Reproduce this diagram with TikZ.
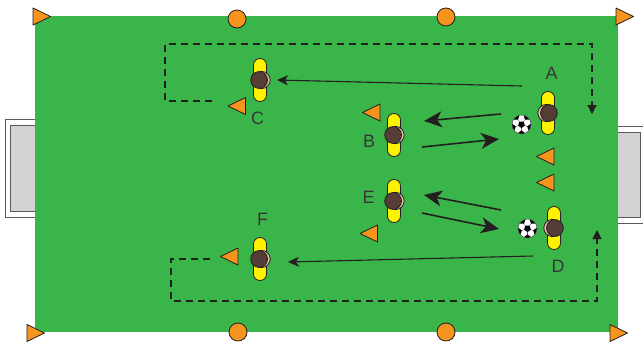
\documentclass[tikz,border=0pt]{standalone}
\usepackage{fontspec}
\setmainfont{Liberation Sans}
\usetikzlibrary{arrows.meta}
\definecolor{field}{RGB}{58,181,74}
\definecolor{cone}{RGB}{247,148,29}
\definecolor{shirt}{RGB}{255,242,0}
\definecolor{hair}{RGB}{84,62,55}
\definecolor{skin}{RGB}{233,190,168}
\definecolor{goalgray}{RGB}{209,211,212}
\definecolor{ink}{RGB}{35,31,32}
\definecolor{goalline}{RGB}{90,90,90}
\tikzset{
  leftcone/.pic={\filldraw[fill=cone,draw=ink,line width=0.8bp,line join=round] (-9,0)--(8.5,-8.5)--(8.5,8.5)--cycle;},
  player/.pic={
    \filldraw[fill=shirt,draw=ink,line width=0.8bp,rounded corners=6.4bp] (-6.5,-21.5) rectangle (6.5,21.5);
    \filldraw[fill=skin,draw=ink,line width=0.8bp] (1.6,0) circle (8.6);
    \filldraw[fill=hair,draw=ink,line width=0.8bp] (-0.9,0) circle (8.4);
  },
  ballpic/.pic={
    \fill[white] (0,0) circle (9.5);
    \begin{scope}
      \clip (0,0) circle (9.5);
      \foreach \a in {18,90,162,234,306}{
        \draw[black!60,line width=0.4bp] (\a:3.5) -- (\a:7);
        \fill[black,shift={(\a:9.6)},rotate=\a] (0:3.6)--(72:3.6)--(144:3.6)--(216:3.6)--(288:3.6)--cycle;
      }
      \fill[black] (90:3.6)--(162:3.6)--(234:3.6)--(306:3.6)--(18:3.6)--cycle;
    \end{scope}
    \draw[black!70,line width=0.5bp] (0,0) circle (9.5);
  },
  lbl/.style={font=\fontsize{18}{20}\selectfont,text=ink!90,inner sep=0pt,text height=12.9bp,text depth=0pt},
  disc/.style={circle,fill=cone,draw=ink,line width=0.8bp,minimum size=18bp,inner sep=0pt},
  dashline/.style={ink,line width=1.2bp,dash pattern=on 7bp off 5bp,-{Triangle[length=9bp,width=9bp]}},
  bigpass/.style={ink,line width=1.6bp,-{Stealth[length=18bp,width=16bp,inset=5bp]}},
  longpass/.style={ink,line width=1.1bp,-{Stealth[length=11bp,width=10bp,inset=3bp]}},
}
\begin{document}
\begin{tikzpicture}[x=1bp,y=-1bp]
\useasboundingbox (0,0) rectangle (643,344);
\fill[white] (0,0) rectangle (643,344);
% goals
\filldraw[fill=white,draw=goalline,line width=1bp] (5,119) rectangle (35,217);
\filldraw[fill=goalgray,draw=goalline,line width=1bp] (10,125) rectangle (35,211);
\filldraw[fill=white,draw=goalline,line width=1bp] (617,126) rectangle (645,223);
\filldraw[fill=goalgray,draw=goalline,line width=1bp] (617,132) rectangle (640,217);
% field
\fill[field] (35,16) rectangle (617.5,332);
% corner cones
\pic[xscale=-1] at (41.5,16.5) {leftcone};
\pic[xscale=-1] at (624.5,16.5) {leftcone};
\pic[xscale=-1] at (35.5,333) {leftcone};
\pic[xscale=-1] at (618.5,333) {leftcone};
% discs
\node[disc] (d1) at (237,19) {};
\node[disc] (d2) at (446,17) {};
\node[disc] (d3) at (238,332) {};
\node[disc] (d4) at (446,332) {};
% dashed runs
\coordinate (rs1) at (212,101);
\coordinate (re1) at (592,114);
\coordinate (rs2) at (210,259);
\coordinate (re2) at (597,230);
\draw[dashline] (rs1) -- (165,101) -- (165,44) -- (592,44) -- (re1);
\draw[dashline] (rs2) -- (171,259) -- (171,301) -- (597,301) -- (re2);
% cones
\pic at (237,106) {leftcone};
\pic at (371.5,112.5) {leftcone};
\pic at (369,233.5) {leftcone};
\pic at (545.5,156.5) {leftcone};
\pic at (545.5,182.5) {leftcone};
\pic at (229.5,256.5) {leftcone};
% players
\pic (pC) at (260,80) {player};
\pic (pB) at (394,135) {player};
\pic (pE) at (394,201) {player};
\pic (pF) at (260,259) {player};
\pic[xscale=-1] (pA) at (548,113) {player};
\pic[xscale=-1] (pD) at (554,228) {player};
% balls
\pic at (521.5,124.5) {ballpic};
\pic at (527.5,228.5) {ballpic};
% passes
\coordinate (a1) at (522,86);   \coordinate (c1) at (277,80);
\coordinate (a2) at (501,114);  \coordinate (b2) at (424,121);
\coordinate (b3) at (422,147);  \coordinate (a3) at (499,139);
\coordinate (dd4) at (501,210); \coordinate (e4) at (424,195);
\coordinate (e5) at (422,213);  \coordinate (d5) at (499,229);
\coordinate (d6) at (533,256);  \coordinate (f6) at (288,262);
\draw[longpass] (a1) -- (c1);
\draw[bigpass] (a2) -- (b2);
\draw[bigpass] (b3) -- (a3);
\draw[bigpass] (dd4) -- (e4);
\draw[bigpass] (e5) -- (d5);
\draw[longpass] (d6) -- (f6);
% labels
\node[lbl] (lA) at (551.5,73) {A};
\node[lbl] (lB) at (369,141.5) {B};
\node[lbl] (lC) at (257.5,118.5) {C};
\node[lbl] (lD) at (558,266.5) {D};
\node[lbl] (lE) at (368.5,197) {E};
\node[lbl] (lF) at (262.5,219.5) {F};
\end{tikzpicture}
\end{document}
